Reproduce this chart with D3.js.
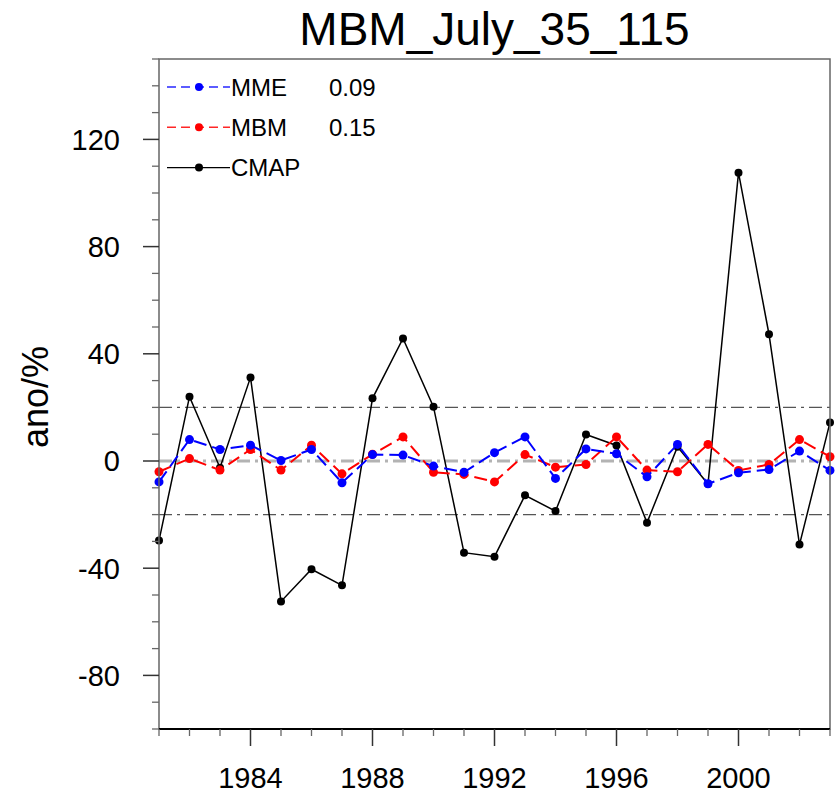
<!DOCTYPE html>
<html>
<head>
<meta charset="utf-8">
<script src="https://cdn.jsdelivr.net/npm/d3@7"></script>
<style>
  html, body { margin: 0; padding: 0; background: #fff; }
  svg { display: block; font-family: "Liberation Sans", Arial, Helvetica, sans-serif; }
</style>
</head>
<body>
<svg id="chart" width="836" height="796"></svg>
<script>
// July precipitation anomaly (%) over 35N,115E, 1981-2003
const years = d3.range(1981, 2004);
const cmap = [-29.7, 24.0, -2.5, 31.2, -52.4, -40.4, -46.4, 23.4, 45.7, 20.2,
              -34.2, -35.7, -12.8, -18.7, 9.9, 5.8, -23.0, 5.3, -8.6, 107.6,
              47.3, -31.2, 14.4];
const mme  = [-7.8, 8.0, 4.3, 5.9, 0.2, 4.3, -8.1, 2.4, 2.2, -1.9,
              -4.2, 3.1, 9.0, -6.5, 4.5, 2.7, -5.9, 6.2, -8.5, -4.4,
              -3.2, 3.7, -3.5];
const mbm  = [-4.0, 0.9, -3.4, 4.3, -3.4, 5.9, -4.8, 2.5, 9.0, -4.2,
              -5.0, -7.8, 2.4, -2.3, -1.3, 9.0, -3.4, -4.0, 6.2, -3.5,
              -1.3, 8.0, 1.6];
const yTickValues = [-80, -40, 0, 40, 80, 120];
const xTickValues = [1984, 1988, 1992, 1996, 2000];
const refLines = [-20, 20];
const legendItems = [
  { name: "MME",  corr: "0.09", values: mme,  color: "#0000ff", dash: true },
  { name: "MBM",  corr: "0.15", values: mbm,  color: "#ff0000", dash: true },
  { name: "CMAP", corr: "",     values: cmap, color: "#000000", dash: false }
];

const svg = d3.select("#chart");
const pL = 159, pR = 830, pT = 59, pB = 729;

const x = d3.scaleLinear().domain([1981, 2003]).range([pL, pR]);
const y = d3.scaleLinear().domain([-100, 150]).range([pB, pT]);

// Title
svg.append("text")
  .attr("x", (pL + pR) / 2).attr("y", 45)
  .attr("text-anchor", "middle")
  .attr("font-size", 46)
  .attr("fill", "#000")
  .text("MBM_July_35_115");

// Y axis title
svg.append("text")
  .attr("transform", `translate(48, 397) rotate(-90)`)
  .attr("text-anchor", "middle")
  .attr("font-size", 36)
  .attr("fill", "#000")
  .text("ano/%");

// Reference lines: +/-20 dash-dot, zero line grey
const plot = svg.append("g");
plot.selectAll("line.ref").data(refLines).join("line")
  .attr("class", "ref")
  .attr("x1", pL).attr("x2", pR)
  .attr("y1", d => y(d)).attr("y2", d => y(d))
  .attr("stroke", "#555").attr("stroke-width", 1.3)
  .attr("stroke-dasharray", "13,5,3,5");
plot.append("line")
  .attr("x1", pL).attr("x2", pR)
  .attr("y1", y(0)).attr("y2", y(0))
  .attr("stroke", "#b3b3b3").attr("stroke-width", 3)
  .attr("stroke-dasharray", "13,5,3,5");

// Series: black first, then red, then blue on top
const line = d3.line().x((d, i) => x(years[i])).y(d => y(d));
const drawOrder = [legendItems[2], legendItems[1], legendItems[0]];
drawOrder.forEach(s => {
  plot.append("path")
    .datum(s.values)
    .attr("d", line)
    .attr("fill", "none")
    .attr("stroke", s.color)
    .attr("stroke-width", s.dash ? 2 : 1.5)
    .attr("stroke-dasharray", s.dash ? "13,6" : null);
  plot.selectAll(null).data(s.values).join("circle")
    .attr("cx", (d, i) => x(years[i]))
    .attr("cy", d => y(d))
    .attr("r", s.dash ? 4.5 : 4)
    .attr("fill", s.color);
});

// Frame
svg.append("rect")
  .attr("x", pL).attr("y", pT)
  .attr("width", pR - pL).attr("height", pB - pT)
  .attr("fill", "none").attr("stroke", "#666").attr("stroke-width", 1.5);
svg.append("line")
  .attr("x1", pL).attr("x2", pR).attr("y1", pB).attr("y2", pB)
  .attr("stroke", "#000").attr("stroke-width", 2);

// Y axis ticks (outward), major every 40, minor every 10
const yAxis = svg.append("g");
const yMinor = d3.range(-100, 151, 10).filter(v => !yTickValues.includes(v));
yAxis.selectAll("line.minor").data(yMinor).join("line")
  .attr("class", "minor")
  .attr("x1", pL - 7).attr("x2", pL)
  .attr("y1", d => y(d)).attr("y2", d => y(d))
  .attr("stroke", "#666").attr("stroke-width", 1.3);
yAxis.selectAll("line.major").data(yTickValues).join("line")
  .attr("class", "major")
  .attr("x1", pL - 16).attr("x2", pL)
  .attr("y1", d => y(d)).attr("y2", d => y(d))
  .attr("stroke", "#333").attr("stroke-width", 1.5);
yAxis.selectAll("text").data(yTickValues).join("text")
  .attr("x", 120).attr("y", d => y(d))
  .attr("dy", "0.36em")
  .attr("text-anchor", "end")
  .attr("font-size", 29)
  .attr("fill", "#000")
  .text(d => String(d));

// X axis ticks (outward), major every 4 years, minor every year
const xAxis = svg.append("g");
const xMinor = d3.range(1981, 2004).filter(v => !xTickValues.includes(v));
xAxis.selectAll("line.minor").data(xMinor).join("line")
  .attr("class", "minor")
  .attr("x1", d => x(d)).attr("x2", d => x(d))
  .attr("y1", pB).attr("y2", pB + 7)
  .attr("stroke", "#666").attr("stroke-width", 1.3);
xAxis.selectAll("line.major").data(xTickValues).join("line")
  .attr("class", "major")
  .attr("x1", d => x(d)).attr("x2", d => x(d))
  .attr("y1", pB).attr("y2", pB + 17)
  .attr("stroke", "#333").attr("stroke-width", 1.5);
xAxis.selectAll("text").data(xTickValues).join("text")
  .attr("x", d => x(d)).attr("y", 788)
  .attr("text-anchor", "middle")
  .attr("font-size", 29)
  .attr("fill", "#000")
  .text(d => String(d));

// Legend
const legend = svg.append("g");
legendItems.forEach((s, i) => {
  const ly = 87 + i * 40.3;
  legend.append("line")
    .attr("x1", 167).attr("x2", 230).attr("y1", ly).attr("y2", ly)
    .attr("stroke", s.color).attr("stroke-width", s.dash ? 1.5 : 1.3)
    .attr("stroke-dasharray", s.dash ? "9,5" : null)
    .attr("stroke-opacity", s.dash ? 0.85 : 1);
  legend.append("circle")
    .attr("cx", 199).attr("cy", ly).attr("r", 4)
    .attr("fill", s.color);
  legend.append("text")
    .attr("x", 231).attr("y", ly).attr("dy", "0.36em")
    .attr("font-size", 24).attr("fill", "#000")
    .text(s.name);
  if (s.corr) {
    legend.append("text")
      .attr("x", 329).attr("y", ly).attr("dy", "0.36em")
      .attr("font-size", 24).attr("fill", "#000")
      .text(s.corr);
  }
});
</script>
</body>
</html>
